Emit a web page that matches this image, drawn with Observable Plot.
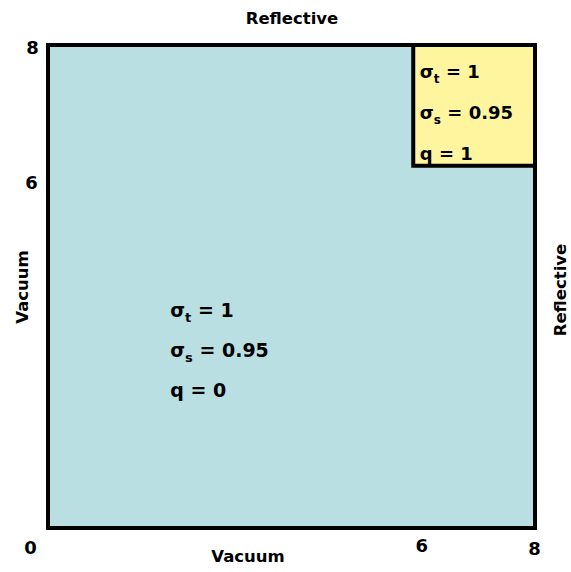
<!DOCTYPE html>
<html>
<head>
<meta charset="utf-8">
<script src="https://cdn.jsdelivr.net/npm/d3@7"></script>
<script src="https://cdn.jsdelivr.net/npm/@observablehq/plot@0.6"></script>
<style>
  html, body { margin: 0; padding: 0; background: #ffffff; }
  #chart svg { display: block; }
</style>
</head>
<body>
<div id="chart"></div>
<script>
// Regions of the problem (data coordinates)
const regionNames = ["domain", "source"];
const regionX1 = [0, 6];
const regionX2 = [8, 8];
const regionY1 = [0, 6];
const regionY2 = [8, 8];
const regionFill = ["#b9dfe2", "#fff59e"];

// Properties in each region
const domainLabels = ["σ_t = 1", "σ_s = 0.95", "q = 0"];
const sourceLabels = ["σ_t = 1", "σ_s = 0.95", "q = 1"];

// Boundary conditions
const boundaryNames = ["top", "bottom", "left", "right"];
const boundaryLabels = ["Reflective", "Vacuum", "Vacuum", "Reflective"];

// Tick labels
const xTickValues = [6, 8];
const yTickValues = [6, 8];
const originLabel = "0";

const regions = regionNames.map((n, i) => ({
  name: n, x1: regionX1[i], x2: regionX2[i], y1: regionY1[i], y2: regionY2[i], fill: regionFill[i]
}));

const font = "DejaVu Sans, Verdana, sans-serif";
const tick = { fontSize: 18, fontWeight: "bold", fill: "#000", text: d => String(d) };
const lab = { fontSize: 16.5, fontWeight: "bold", fill: "#000", text: d => d };

const plot = Plot.plot({
  width: 571,
  height: 572,
  marginLeft: 48,
  marginRight: 36,
  marginTop: 45,
  marginBottom: 44,
  x: { domain: [0, 8], axis: null },
  y: { domain: [0, 8], axis: null },
  style: { fontFamily: font, background: "white" },
  marks: [
    Plot.rect(regions, { x1: "x1", x2: "x2", y1: "y1", y2: "y2", fill: "fill", stroke: "#000", strokeWidth: 4 }),
    // domain properties
    Plot.text(domainLabels, { x: 2.0, y: 3.6, text: d => d,
      textAnchor: "start", fontSize: 19, fontWeight: "bold", fill: "#000", className: "lbl-domain" }),
    // source properties
    Plot.text(sourceLabels, { x: 6.1, y: 7.55, text: d => d,
      textAnchor: "start", fontSize: 18, fontWeight: "bold", fill: "#000", className: "lbl-source" }),
    // Boundary labels
    Plot.text([boundaryLabels[0]], { ...lab, x: 4, y: 8, dy: -27 }),
    Plot.text([boundaryLabels[1]], { ...lab, x: 4, y: 0, dx: -44, dy: 28, letterSpacing: 1 }),
    Plot.text([boundaryLabels[2]], { ...lab, x: 0, y: 4, dx: -26, rotate: -90, letterSpacing: 1 }),
    Plot.text([boundaryLabels[3]], { ...lab, x: 8, y: 4, dx: 25, dy: 3, rotate: -90 }),
    // tick labels
    Plot.text([xTickValues[0]], { ...tick, x: d => d, y: 0, dx: 8, dy: 18 }),
    Plot.text([xTickValues[1]], { ...tick, x: d => d, y: 0, dx: -1, dy: 21 }),
    Plot.text([yTickValues[0]], { ...tick, x: 0, y: d => d, dx: -17, dy: 17 }),
    Plot.text([yTickValues[1]], { ...tick, x: 0, y: d => d, dx: -16, dy: 3 }),
    Plot.text([originLabel], { ...tick, text: d => d, x: 0, y: 0, dx: -18, dy: 20 })
  ]
});

// Stack the property lines and typeset subscripts
function typeset(cls, step, subSize) {
  const texts = plot.querySelectorAll(`g.${cls} text`);
  texts.forEach((t, i) => {
    const s = t.textContent;
    const base = +t.getAttribute("y") || 0;
    const tr = t.getAttribute("transform");
    if (tr) {
      const m = tr.match(/translate\(([-\d.]+),\s*([-\d.]+)\)/);
      if (m) t.setAttribute("transform", `translate(${m[1]},${+m[2] + i * step})`);
    } else {
      t.setAttribute("y", base + i * step);
    }
    const k = s.indexOf("_");
    if (k >= 0) {
      t.textContent = "";
      const ns = "http://www.w3.org/2000/svg";
      const a = document.createElementNS(ns, "tspan");
      a.textContent = s.slice(0, k);
      const b = document.createElementNS(ns, "tspan");
      b.textContent = s[k + 1];
      b.setAttribute("font-size", subSize);
      b.setAttribute("fill", "#000");
      b.setAttribute("dy", "5");
      const c = document.createElementNS(ns, "tspan");
      c.textContent = s.slice(k + 2);
      c.setAttribute("dy", "-5");
      t.append(a, b, c);
    }
  });
}
typeset("lbl-domain", 40, 13);
typeset("lbl-source", 41, 12);

document.getElementById("chart").append(plot);
</script>
</body>
</html>
